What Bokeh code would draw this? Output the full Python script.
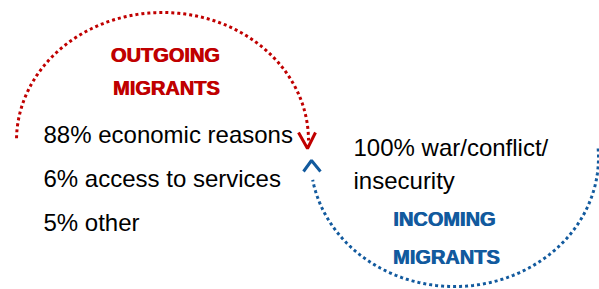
import numpy as np
from bokeh.plotting import figure
from bokeh.models import Range1d
from bokeh.core.properties import value
from bokeh.embed import file_html
from bokeh.resources import INLINE

# ---- data ----
outgoing_title = ["OUTGOING", "MIGRANTS"]
outgoing_reasons = ["economic reasons", "access to services", "other"]
outgoing_shares = [88, 6, 5]
incoming_title = ["INCOMING", "MIGRANTS"]
incoming_reasons = ["war/conflict/", "insecurity"]
incoming_shares = [100]

RED = "#C00000"
BLUE = "#125A9E"
FONT = "Liberation Sans"

W, H = 599, 289
p = figure(width=W, height=H, output_backend="svg", toolbar_location=None,
           x_range=Range1d(0, W), y_range=Range1d(H, 0),
           min_border=0)
p.axis.visible = False
p.grid.visible = False
p.outline_line_color = None
p.background_fill_color = "white"
p.border_fill_color = "white"

# ---- outgoing arc (red) ----
cx, cy, rx, ry = 162, 140, 146, 128
t = np.radians(np.linspace(181, 360, 200))
p.line(cx + rx * np.cos(t), cy + ry * np.sin(t), line_color=RED,
       line_width=3, line_dash="3 3")
tipx, tipy = cx + rx - 1, cy + 8
p.line([tipx - 9, tipx, tipx + 8], [tipy - 16, tipy, tipy - 16],
       line_color=RED, line_width=3)

# ---- incoming arc (blue) ----
bx, by, brx, bry = 454, 157, 144, 129
t2 = np.radians(np.linspace(-4, 170, 200))
p.line(bx + brx * np.cos(t2), by + bry * np.sin(t2), line_color=BLUE,
       line_width=3, line_dash="3 3")
ux, uy = bx - brx + 1, 160
p.line([ux - 8, ux, ux + 9], [uy + 11, uy, uy + 11],
       line_color=BLUE, line_width=3)

# ---- titles (drawn twice, slightly offset, for a heavier weight) ----
for dx in (-0.45, 0.45):
    p.text(x=[165 + dx, 166 + dx], y=[54, 87], text=outgoing_title,
           text_color=RED, text_font=value(FONT), text_font_style="bold",
           text_font_size="20px", text_align="center",
           text_baseline="alphabetic")
    p.text(x=[444 + dx, 446 + dx], y=[218, 256], text=incoming_title,
           text_color=BLUE, text_font=value(FONT), text_font_style="bold",
           text_font_size="20px", text_align="center",
           text_baseline="alphabetic")

# ---- reasons ----
out_txt = [f"{s}% {r}" for s, r in zip(outgoing_shares, outgoing_reasons)]
p.text(x=[43] * 3, y=[134, 178, 222], text=out_txt, text_color="black",
       text_font=value(FONT), text_font_size="24px",
       text_align="left", text_baseline="alphabetic")
in_txt = [f"{incoming_shares[0]}% {incoming_reasons[0]}", incoming_reasons[1]]
p.text(x=[353, 353], y=[147, 180], text=in_txt, text_color="black",
       text_font=value(FONT), text_font_size="24px",
       text_align="left", text_baseline="alphabetic")

open("out.html", "w").write(file_html(p, INLINE))
